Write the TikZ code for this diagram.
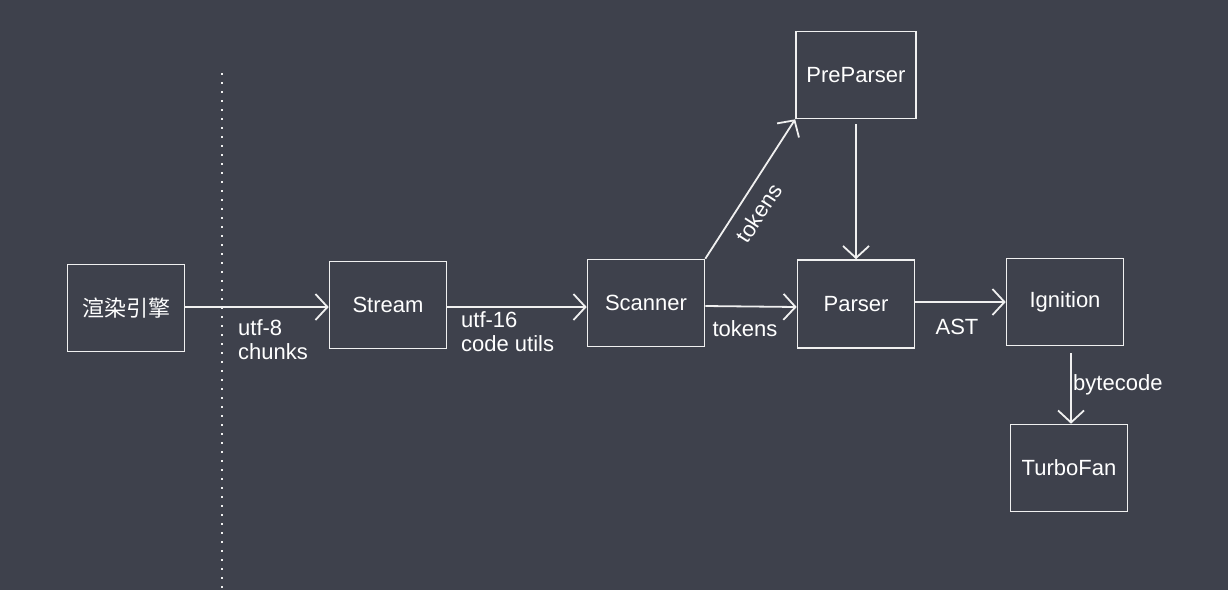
\documentclass[tikz,border=0pt]{standalone}
\usepackage{fontspec}
\setmainfont{Liberation Sans}
\newfontfamily\cjk{Noto Sans CJK SC}
\usetikzlibrary{arrows.meta}
\definecolor{bg}{RGB}{62,65,76}
\definecolor{ink}{RGB}{240,240,240}
\tikzset{
  box/.style={draw=ink, line width=1.6pt, minimum width=117pt, minimum height=87pt, text=white, font=\fontsize{22}{25}\selectfont, inner sep=0pt},
  conn/.style={draw=ink, line width=1.8pt, -{Straight Barb[length=12pt,width=26pt,line width=1.8pt]}},
  lbl/.style={text=white, font=\fontsize{22}{24}\selectfont, align=left, inner sep=1pt}
}
\begin{document}
\begin{tikzpicture}[x=1pt,y=-1pt]
\fill[bg] (0,0) rectangle (1228,590);
\useasboundingbox (0,0) rectangle (1228,590);
\draw[ink, line width=2pt, dash pattern=on 2pt off 7pt] (222,73) -- (222,590);
\node[box] (render) at (126,308) {\cjk 渲染引擎};
\node[box] (stream) at (388,305) {Stream};
\node[box] (scanner) at (646,303) {Scanner};
\node[box, minimum width=120pt] (pre) at (856,75) {PreParser};
\node[box, minimum height=88pt] (parser) at (856,304) {Parser};
\node[box] (ign) at (1065,302) {Ignition};
\node[box] (turbo) at (1069,468) {TurboFan};
\draw[conn] (render.east |- 0,307) -- (stream.west |- 0,307);
\draw[conn] (stream.east |- 0,307) -- (scanner.west |- 0,307);
\draw[conn] (scanner.east |- 0,306) -- (parser.west |- 0,307);
\draw[conn] (scanner.north east) -- (pre.south west);
\draw[conn] (pre.south |- 0,124) -- (parser.north);
\draw[conn] (parser.east |- 0,302) -- (ign.west |- 0,302);
\draw[conn] (ign.south -| 1071,0) ++(0,7) -- (turbo.north -| 1071,0);
\node[lbl, rotate=57] (l0) at (759,213) {tokens};
\node[lbl, anchor=north west] (l1) at (237,318) {utf-8\\chunks};
\node[lbl, anchor=north west] (l2) at (460,310) {utf-16\\code utils};
\node[lbl] (l3) at (745,329) {tokens};
\node[lbl] (l4) at (957,327) {AST};
\node[lbl, anchor=west] (l5) at (1072,385) {bytecode};
\end{tikzpicture}
\end{document}
